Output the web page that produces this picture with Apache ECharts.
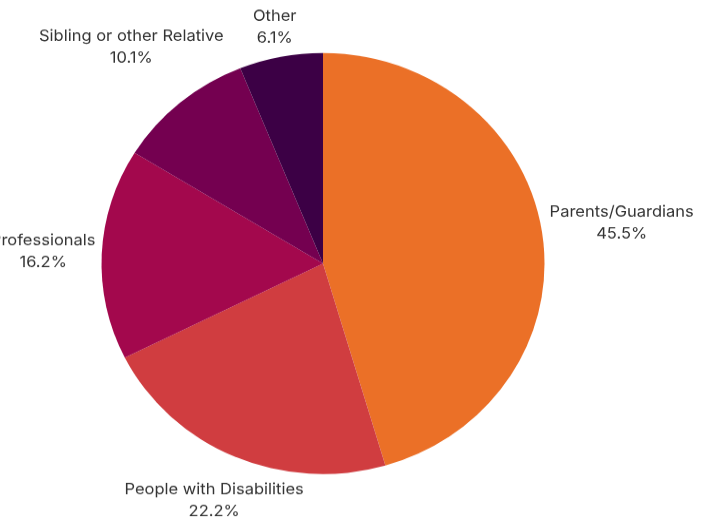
<!DOCTYPE html>
<html><head><meta charset="utf-8">
<script src="https://cdn.jsdelivr.net/npm/echarts@6/dist/echarts.min.js"></script>
<style>html,body{margin:0;padding:0;background:#fff;overflow:hidden}
#c{width:712px;height:545px;transform:scaleY(0.9505);transform-origin:0 0}</style>
</head><body><div id="c"></div>
<script>
var categories = ['Parents/Guardians', 'People with Disabilities', 'Professionals', 'Sibling or other Relative', 'Other'];
var values = [45.5, 22.2, 16.2, 10.1, 6.1];
var colors = ['#EB7027', '#D03D40', '#A3084D', '#740050', '#3C0045'];

var CX = 323, CY = 277.3, R = 221.5, GAP = 6;
var total = values.reduce(function(a, b){ return a + b; }, 0);
function midAngle(i) {
  var before = 0;
  for (var k = 0; k < i; k++) before += values[k];
  return (before + values[i] / 2) / total * Math.PI * 2;
}
// distance from pie centre to nearest point of a box centred at (bx,by)
function nearest(bx, by, hw, hh) {
  var nx = Math.max(Math.abs(bx) - hw, 0), ny = Math.max(Math.abs(by) - hh, 0);
  return Math.sqrt(nx * nx + ny * ny);
}

var chart = echarts.init(document.getElementById('c'), null, {renderer: 'canvas'});
chart.setOption({
  backgroundColor: '#ffffff',
  animation: false,
  series: [{
    type: 'pie',
    center: [CX, CY],
    radius: R,
    startAngle: 90,
    clockwise: true,
    avoidLabelOverlap: false,
    data: categories.map(function(c, i){ return {name: c, value: values[i], itemStyle: {color: colors[i]}}; }),
    itemStyle: {borderWidth: 0},
    label: {
      show: true,
      position: 'outside',
      formatter: function(p){ return p.name + '\n' + p.value.toFixed(1) + '%'; },
      fontFamily: 'Inter',
      fontSize: 16.5,
      lineHeight: 23,
      color: '#333333'
    },
    labelLine: {show: false, length: 10, length2: 0},
    labelLayout: function(p) {
      var a = midAngle(p.dataIndex);
      var dx = Math.sin(a), dy = -Math.cos(a);
      var hw = p.labelRect.width / 2, hh = p.labelRect.height / 2;
      var lo = R, hi = R + 400;
      for (var it = 0; it < 40; it++) {
        var mid = (lo + hi) / 2;
        if (nearest(dx * mid, dy * mid, hw, hh) < R + GAP) lo = mid; else hi = mid;
      }
      var d = (lo + hi) / 2;
      return {x: CX + dx * d, y: CY + dy * d, align: 'center', verticalAlign: 'middle'};
    }
  }]
});
</script></body></html>
